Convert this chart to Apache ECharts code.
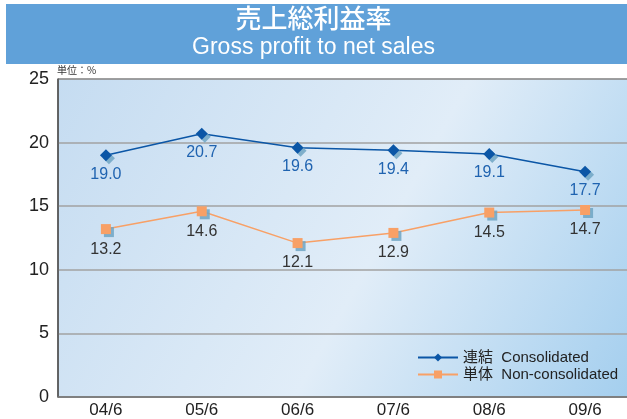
<!DOCTYPE html>
<html><head><meta charset="utf-8">
<script src="https://cdn.jsdelivr.net/npm/echarts@6/dist/echarts.min.js"></script>
<style>html,body{margin:0;padding:0;background:#fff}#c{width:627px;height:419px}</style>
</head><body><div id="c"></div>
<script>
const categories = ['04/6','05/6','06/6','07/6','08/6','09/6'];
const consolidated = [19.0, 20.7, 19.6, 19.4, 19.1, 17.7];
const nonConsolidated = [13.2, 14.6, 12.1, 12.9, 14.5, 14.7];
const seriesNames = ['連結  Consolidated', '単体  Non-consolidated'];
const titleJa = '売上総利益率';
const titleEn = 'Gross profit to net sales';
const unitText = '単位：%';

const FONT = '"Liberation Sans", Arial, "Noto Sans CJK JP", sans-serif';
const chart = echarts.init(document.getElementById('c'));
chart.setOption({
  animation: false,
  textStyle: { fontFamily: FONT },
  graphic: [
    { type: 'rect', left: 6, top: 4, shape: { width: 621, height: 60 }, style: { fill: '#60a1d9' } },
    { type: 'text', left: 'center', top: 5, style: { text: titleJa, fill: '#fff', font: '500 26px "Noto Sans CJK JP", sans-serif' } },
    { type: 'text', left: 'center', top: 36, style: { text: titleEn, fill: '#fff', font: '23px ' + FONT } },
    { type: 'text', left: 57, top: 65, style: { text: unitText, fill: '#333', font: '10px "Noto Sans CJK JP", sans-serif' } }
  ],
  grid: {
    left: 58, width: 575, top: 79, bottom: 22, show: true,
    outerBoundsMode: 'none', containLabel: false,
    borderColor: '#333', borderWidth: 1,
    backgroundColor: new echarts.graphic.LinearGradient(0, 0, 1, 1, [
      { offset: 0, color: '#c5dcf1' },
      { offset: 0.55, color: '#e1edf8' },
      { offset: 1, color: '#a3ceee' }
    ])
  },
  legend: {
    orient: 'vertical', left: 412, top: 345, itemGap: 2,
    itemWidth: 40, itemHeight: 10,
    textStyle: { fontSize: 15, color: '#222', fontFamily: FONT },
    data: seriesNames
  },
  xAxis: {
    type: 'category', data: categories, boundaryGap: true,
    axisLine: { lineStyle: { color: '#777', width: 1.5 } },
    axisTick: { show: false },
    axisLabel: { fontSize: 17, color: '#222', margin: 5 }
  },
  yAxis: {
    type: 'value', min: 0, max: 25, interval: 5,
    axisLine: { show: true, lineStyle: { color: '#555', width: 1.5 } },
    axisTick: { show: false },
    axisLabel: { fontSize: 18, color: '#222', margin: 9 },
    splitLine: { lineStyle: { color: '#a2a2a2', width: 1.5 } }
  },
  series: [
    {
      name: seriesNames[0], type: 'line', data: consolidated,
      symbol: 'diamond', symbolSize: 12,
      lineStyle: { color: '#0b56a6', width: 1.5 },
      itemStyle: { color: '#0b56a6', shadowColor: 'rgba(110,165,195,0.85)', shadowOffsetX: 3, shadowOffsetY: 3, shadowBlur: 0 },
      label: { show: true, position: 'bottom', distance: 5, fontSize: 16, color: '#1f63b0', formatter: p => p.value.toFixed(1) }
    },
    {
      name: seriesNames[1], type: 'line', data: nonConsolidated,
      symbol: 'rect', symbolSize: 10,
      lineStyle: { color: '#f8a066', width: 1.5 },
      itemStyle: { color: '#f8a066', shadowColor: 'rgba(110,165,195,0.85)', shadowOffsetX: 3, shadowOffsetY: 3, shadowBlur: 0 },
      label: { show: true, position: 'bottom', distance: 7, fontSize: 16, color: '#333', formatter: p => p.value.toFixed(1) }
    }
  ]
});
</script></body></html>
